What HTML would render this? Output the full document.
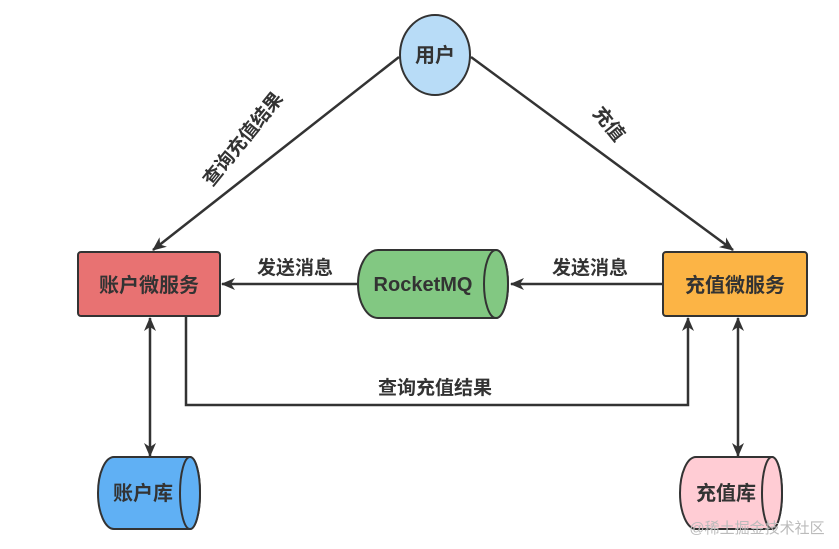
<!DOCTYPE html>
<html><head><meta charset="utf-8"><style>
body{margin:0;background:#fff;}
svg text{font-family:"Liberation Sans","Noto Sans CJK SC",sans-serif;font-weight:bold;fill:#333;}
</style></head><body>
<svg width="839" height="544" viewBox="0 0 839 544" xmlns="http://www.w3.org/2000/svg">
<defs><marker id="a" markerWidth="14" markerHeight="12" refX="13" refY="6" orient="auto" markerUnits="userSpaceOnUse"><path d="M0,0 L14,6 L0,12 L4,6 Z" fill="#333"/></marker>
<marker id="b" markerWidth="14" markerHeight="12" refX="1" refY="6" orient="auto" markerUnits="userSpaceOnUse"><path d="M14,0 L0,6 L14,12 L10,6 Z" fill="#333"/></marker></defs>
<g stroke="#333" stroke-width="2.5" fill="none">
<line x1="399" y1="57" x2="153" y2="250" marker-end="url(#a)"/>
<line x1="471" y1="57" x2="733" y2="250" marker-end="url(#a)"/>
<line x1="663" y1="284" x2="511" y2="284" marker-end="url(#a)"/>
<line x1="358" y1="284" x2="222" y2="284" marker-end="url(#a)"/>
<line x1="150" y1="318" x2="150" y2="456" marker-start="url(#b)" marker-end="url(#a)"/>
<line x1="738" y1="318" x2="738" y2="456" marker-start="url(#b)" marker-end="url(#a)"/>
<polyline points="186,316 186,405 688,405 688,318" marker-end="url(#a)"/>
</g>
<ellipse cx="435" cy="55" rx="35" ry="40" fill="#b8dcf7" stroke="#333" stroke-width="2"/>
<text x="435" y="62" font-size="20" text-anchor="middle">用户</text>
<rect x="78" y="252" width="142" height="64" rx="3" fill="#e87272" stroke="#333" stroke-width="2"/>
<text x="149" y="292" font-size="20" text-anchor="middle">账户微服务</text>
<rect x="663" y="252" width="144" height="64" rx="3" fill="#fcb445" stroke="#333" stroke-width="2"/>
<text x="735" y="292" font-size="20" text-anchor="middle">充值微服务</text>
<path d="M378,250 H496 A12,34 0 0 1 496,318 H378 A20,34 0 0 1 378,250 Z" fill="#82c882" stroke="#333" stroke-width="2"/>
<ellipse cx="496" cy="284" rx="12" ry="34" fill="#82c882" stroke="#333" stroke-width="2"/>
<text x="423" y="291" font-size="20" text-anchor="middle">RocketMQ</text>
<path d="M114,457 H190 A10,36 0 0 1 190,529 H114 A16,36 0 0 1 114,457 Z" fill="#60b0f4" stroke="#333" stroke-width="2"/>
<ellipse cx="190" cy="493" rx="10" ry="36" fill="#60b0f4" stroke="#333" stroke-width="2"/>
<text x="143" y="500" font-size="20" text-anchor="middle">账户库</text>
<path d="M696,457 H772 A10,36 0 0 1 772,529 H696 A16,36 0 0 1 696,457 Z" fill="#ffccd4" stroke="#333" stroke-width="2"/>
<ellipse cx="772" cy="493" rx="10" ry="36" fill="#ffccd4" stroke="#333" stroke-width="2"/>
<text x="726" y="500" font-size="20" text-anchor="middle">充值库</text>
<text x="295" y="274" font-size="19" text-anchor="middle">发送消息</text>
<text x="590" y="274" font-size="19" text-anchor="middle">发送消息</text>
<text x="435" y="394" font-size="19" text-anchor="middle">查询充值结果</text>
<text x="0" y="0" font-size="19" text-anchor="middle" transform="translate(248,143) rotate(-51)">查询充值结果</text>
<text x="0" y="0" font-size="19" text-anchor="middle" transform="translate(604,128) rotate(51)">充值</text>
<text x="757" y="533" font-size="15" text-anchor="middle" style="fill:#bbb;font-weight:normal">@稀土掘金技术社区</text>
</svg>
</body></html>
